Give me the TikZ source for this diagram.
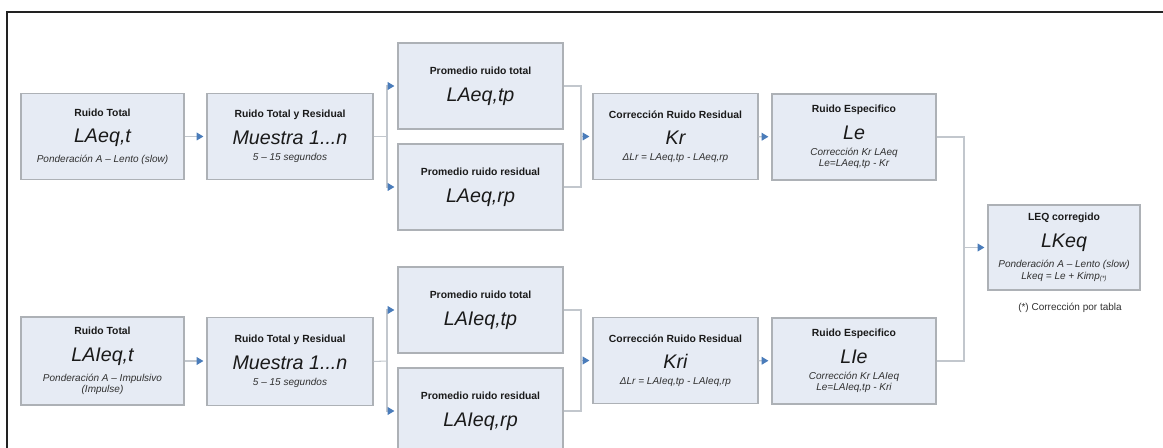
\documentclass[tikz,border=0pt]{standalone}
\usepackage{fontspec}
\setmainfont{Liberation Sans}
\usetikzlibrary{arrows.meta}

\definecolor{boxfill}{HTML}{E6EBF4}
\definecolor{boxline}{HTML}{ADB1B6}
\definecolor{wire}{HTML}{C2C7CD}
\definecolor{tipblue}{HTML}{4A7CBA}
\definecolor{ink}{HTML}{1A1A1A}
\definecolor{subink}{HTML}{303030}
\definecolor{framecol}{HTML}{222222}

% rows of a block: heading, main symbol, italic notes
\newcommand\hdrow[1]{\vrule height 4.6pt depth 2pt width 0pt{\fontsize{5.9}{0}\selectfont\bfseries #1}}
\newcommand\bigrow[1]{\vrule height 13.3pt depth 0pt width 0pt{\fontsize{11.2}{0}\selectfont\itshape #1}}
\newcommand\subrow[1]{\vrule height 8.8pt depth 1.5pt width 0pt{\fontsize{5.7}{0}\selectfont\itshape\color{subink}#1}}
\newcommand\morerow[1]{\vrule height 5.2pt depth 1.5pt width 0pt{\fontsize{5.7}{0}\selectfont\itshape\color{subink}#1}}
\newcommand\blocktext[1]{\vbox{\baselineskip=0pt\lineskip=0pt\lineskiplimit=0pt\halign{\hfil##\hfil\cr#1\crcr}}}
\newcommand\starsub{\raisebox{-0.9pt}{\fontsize{3.6}{0}\selectfont(*)}}

\tikzset{
  blk/.style={draw=boxline, fill=boxfill, line width=0.75pt, minimum width=3.3cm,
    minimum height=1.72cm, inner sep=0pt, text=ink},
  wire/.style={draw=wire, line width=0.6pt},
  flow/.style={wire, -{Triangle[length=3.8pt,width=4.4pt,color=tipblue]}, shorten >=1.7pt}
}

\begin{document}
\begin{tikzpicture}[x=0.02cm,y=-0.02cm]
\useasboundingbox (0,0) rectangle (1163,448);
\clip (0,0) rectangle (1163,448);

% outer frame (top and left edges)
\draw[line width=1.15pt, framecol] (7,448) -- (7,12) -- (1163,12);

% ---- slow (A - Lento) chain ----
\node[blk, minimum width=3.26cm] (a1) at (102.5,136.5) {\blocktext{\hdrow{Ruido Total}\cr\bigrow{LAeq,t}\cr\subrow{Ponderación A – Lento (slow)}}};
\node[blk, minimum width=3.32cm] (a2) at (290,136.5) {\blocktext{\hdrow{Ruido Total y Residual}\cr\bigrow{Muestra 1...n}\cr\subrow{5 – 15 segundos}}};
\node[blk] (a3) at (480.5,86) {\blocktext{\hdrow{Promedio ruido total}\cr\bigrow{LAeq,tp}}};
\node[blk] (a4) at (480.5,187) {\blocktext{\hdrow{Promedio ruido residual}\cr\bigrow{LAeq,rp}}};
\node[blk] (a5) at (675.5,136.5) {\blocktext{\hdrow{Corrección Ruido Residual}\cr\bigrow{Kr}\cr\subrow{ΔLr = LAeq,tp - LAeq,rp}}};
\node[blk, minimum width=3.28cm] (a6) at (854,137) {\blocktext{\hdrow{Ruido Especifico}\cr\bigrow{Le}\cr\subrow{Corrección Kr LAeq}\cr\morerow{Le=LAeq,tp - Kr}}};

% ---- impulse (A - Impulsivo) chain ----
\node[blk, minimum width=3.26cm, minimum height=1.76cm] (b1) at (102.5,361) {\blocktext{\hdrow{Ruido Total}\cr\bigrow{LAIeq,t}\cr\subrow{Ponderación A – Impulsivo}\cr\morerow{(Impulse)}}};
\node[blk, minimum width=3.32cm, minimum height=1.76cm] (b2) at (290,361.5) {\blocktext{\hdrow{Ruido Total y Residual}\cr\bigrow{Muestra 1...n}\cr\subrow{5 – 15 segundos}}};
\node[blk] (b3) at (480.5,310) {\blocktext{\hdrow{Promedio ruido total}\cr\bigrow{LAIeq,tp}}};
\node[blk] (b4) at (480.5,411) {\blocktext{\hdrow{Promedio ruido residual}\cr\bigrow{LAIeq,rp}}};
\node[blk] (b5) at (675.5,360.5) {\blocktext{\hdrow{Corrección Ruido Residual}\cr\bigrow{Kri}\cr\subrow{ΔLr = LAIeq,tp - LAIeq,rp}}};
\node[blk, minimum width=3.28cm] (b6) at (854,361) {\blocktext{\hdrow{Ruido Especifico}\cr\bigrow{LIe}\cr\subrow{Corrección Kr LAIeq}\cr\morerow{Le=LAIeq,tp - Kri}}};

% ---- result ----
\node[blk, minimum width=3.04cm, minimum height=1.7cm] (c) at (1064,247.5) {\blocktext{\hdrow{LEQ corregido}\cr\bigrow{LKeq}\cr\subrow{Ponderación A – Lento (slow)}\cr\morerow{Lkeq = Le + Kimp\starsub}}};
\node[font=\fontsize{5.7}{0}\selectfont, text=subink, inner sep=0pt] (note) at (1070,308) {(*) Corrección por tabla};

% ---- connectors, slow chain ----
\coordinate (sa) at (387,136.5);
\coordinate (ma) at (581,136.5);
\draw[flow] (a1) -- (a2);
\draw[wire] (a2.east) -- (sa);
\draw[flow] (sa) |- (a3.west);
\draw[flow] (sa) |- (a4.west);
\draw[wire] (a3.east) -| (ma);
\draw[wire] (a4.east) -| (ma);
\draw[flow] (ma) -- (a5.west);
\draw[flow] (a5) -- (a6);

% ---- connectors, impulse chain ----
\coordinate (sb) at (387,361);
\coordinate (mb) at (581,360.5);
\draw[flow] (b1.east) -- (b1.east -| b2.west);
\draw[wire] (b2.east) -- (sb);
\draw[flow] (sb) |- (b3.west);
\draw[flow] (sb) |- (b4.west);
\draw[wire] (b3.east) -| (mb);
\draw[wire] (b4.east) -| (mb);
\draw[flow] (mb) -- (b5.west);
\draw[flow] (b5) -- (b6);

% ---- join into the corrected level ----
\coordinate (j) at (964,247.5);
\draw[wire] (a6.east) -| (j);
\draw[wire] (b6.east) -| (j);
\draw[flow] (j) -- (c.west);
\end{tikzpicture}
\end{document}
